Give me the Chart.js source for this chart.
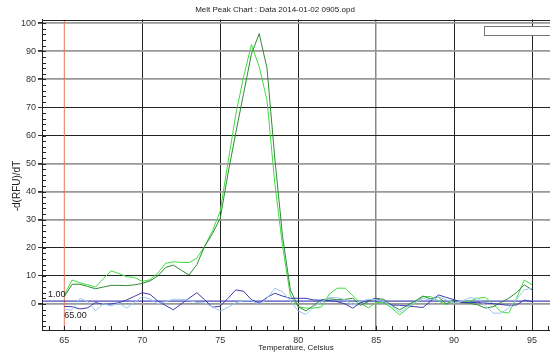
<!DOCTYPE html>
<html>
<head>
<meta charset="utf-8">
<script src="https://cdn.jsdelivr.net/npm/chart.js@4"></script>
<style>
  html, body { margin: 0; padding: 0; background: #fff; }
  #wrap { width: 550px; height: 353px; position: relative; }
</style>
</head>
<body>
<div id="wrap"><canvas id="meltChart"></canvas></div>
<script>
// melt peak chart - values
const temps = [65, 65.5, 66, 66.5, 67, 67.5, 68, 68.5, 69, 69.5, 70, 70.5, 71, 71.5, 72, 72.5, 73, 73.5, 74, 74.5,
  75, 75.5, 76, 76.5, 77, 77.5, 78, 78.5, 79, 79.5, 80, 80.5, 81, 81.5, 82, 82.5, 83, 83.5, 84, 84.5,
  85, 85.5, 86, 86.5, 87, 87.5, 88, 88.5, 89, 89.5, 90, 90.5, 91, 91.5, 92, 92.5, 93, 93.5, 94, 94.5, 95];

const darkGreen = [2.6, 7.0, 7.0, 6.2, 5.4, 6.0, 6.6, 6.6, 6.5, 6.8, 7.3, 8.2, 10.0, 13.0, 13.8, 12.0, 10.3, 14.0, 20.5, 25.0,
  30.5, 46.5, 61.0, 75.0, 89.0, 96.3, 84.0, 52.0, 24.0, 5.0, -1.0, -2.5, -0.5, 1.5, 1.8, 1.5, 1.6, 2.0, -0.5, 0.8,
  2.0, 1.6, -0.5, -2.1, -0.5, 1.0, 2.8, 1.8, 2.4, 0.0, 1.4, 0.5, 0.2, -0.3, -1.5, -1.0, 0.5, 2.0, 4.0, 6.8, 5.0];

const lightGreen = [3.2, 8.5, 7.5, 6.8, 6.0, 9.0, 11.8, 10.8, 9.7, 9.4, 8.0, 8.6, 11.0, 14.5, 15.0, 14.8, 14.7, 16.3, 20.5, 26.0,
  33.0, 50.5, 67.5, 81.0, 92.4, 84.5, 72.6, 43.0, 20.5, 3.0, -1.0, -1.5, -1.5, -1.0, 3.5, 5.6, 5.6, 3.0, 0.2, -1.4,
  0.5, 0.4, -1.5, -3.9, -1.7, 0.4, 2.6, 2.6, 1.0, -0.2, 1.3, 0.5, 1.0, 2.0, 2.3, 0.0, -2.8, -3.3, 2.0, 8.5, 6.8];

const darkBlue = [-0.9, -1.0, -1.8, -1.4, 0.5, -0.2, 0.0, 0.4, 1.4, 2.7, 4.0, 3.4, 1.0, -0.6, -2.1, 0.0, 2.0, 4.0, 1.5, -1.2,
  -0.8, 2.0, 5.0, 4.5, 1.5, 0.3, 2.3, 3.8, 2.8, 2.0, 2.0, 2.0, 1.4, 1.3, 1.2, 0.8, 0.0, -1.5, 0.4, 1.2,
  2.0, 0.6, -0.4, -0.5, -0.7, -1.0, -1.3, 1.0, 3.2, 2.3, 1.5, 0.5, 0.5, 0.5, 0.3, 0.1, -0.2, -0.5, -0.4, 1.4, 0.8];

const lightBlue = [-2.1, -2.1, 2.0, 0.8, -2.4, 0.0, -0.7, 0.2, -1.5, 0.5, 2.6, 1.7, 0.0, 0.8, 1.7, 1.6, 1.3, 0.5, 0.3, -1.0,
  -2.5, -1.2, 0.4, 1.2, 1.2, -0.2, 2.0, 5.6, 4.3, 1.0, -2.5, -3.8, -1.0, 0.8, 2.3, 2.2, 1.5, -0.4, 1.0, 1.6,
  1.5, 0.8, -0.8, -3.0, -1.2, 0.5, 1.9, 1.5, 2.4, 1.5, 0.3, 1.0, 2.2, 2.0, -0.5, -3.3, -3.3, -1.5, 1.6, 5.0, 5.6];

const xTicks = [65, 70, 75, 80, 85, 90, 95];
const yTicks = [0, 10, 20, 30, 40, 50, 60, 70, 80, 90, 100];
const threshold = 1.0;
const startTemp = 65.0;
const xMin = 63.57, xMax = 96.15;
const yMin = -9.3, yMax = 101.3;
const yTitle = '-d(RFU)/dT';

const toPoints = vals => temps.map((t, i) => ({ x: t, y: vals[i] }));

const grayY = [0, 30, 40, 50, 80, 90, 100];
const FONT = '"Liberation Sans", Arial, sans-serif';

const extras = {
  id: 'extras',
  afterDraw(chart) {
    const c = chart.ctx, a = chart.chartArea;
    const xs = chart.scales.x, ys = chart.scales.y;
    c.save();
    c.strokeStyle = '#222';
    c.lineWidth = 1;
    c.beginPath();
    // top frame
    c.moveTo(a.left, Math.round(a.top) + 0.5);
    c.lineTo(a.right, Math.round(a.top) + 0.5);
    // y minor ticks every 2
    for (let v = -8; v <= 100; v += 2) {
      const py = Math.round(ys.getPixelForValue(v)) + 0.5;
      c.moveTo(a.left, py);
      c.lineTo(a.left + 4, py);
    }
    // x minor ticks every 1
    for (let t = 64; t <= 96; t += 1) {
      const px = Math.round(xs.getPixelForValue(t)) + 0.5;
      c.moveTo(px, a.bottom);
      c.lineTo(px, a.bottom - 4);
    }
    c.stroke();
    // legend box (empty)
    c.fillStyle = '#fff';
    c.strokeStyle = '#777';
    c.fillRect(484, 26, 70, 9);
    c.strokeRect(484.5, 26.5, 70, 9);
    // marker labels
    c.fillStyle = '#222';
    c.font = '9px ' + FONT;
    c.textBaseline = 'middle';
    c.textAlign = 'left';
    c.fillText(threshold.toFixed(2), 48, ys.getPixelForValue(threshold) - 7);
    c.fillText(startTemp.toFixed(2), xs.getPixelForValue(startTemp), 316);
    // y axis title
    c.translate(17, 186);
    c.rotate(-Math.PI / 2);
    c.textAlign = 'center';
    c.font = '10px ' + FONT;
    c.fillText(yTitle, 0, 0);
    c.restore();
  }
};

new Chart(document.getElementById('meltChart'), {
  type: 'scatter',
  data: {
    datasets: [
      { label: 'light blue', data: toPoints(lightBlue), borderColor: '#9cc8ee' },
      { label: 'dark blue', data: toPoints(darkBlue), borderColor: '#3c3cb4' },
      { label: 'dark green', data: toPoints(darkGreen), borderColor: '#2f8a3a' },
      { label: 'light green', data: toPoints(lightGreen), borderColor: '#3ddc3d' },
      { label: 'threshold', data: [{ x: xMin, y: threshold }, { x: xMax, y: threshold }], borderColor: '#1c1ca8' },
      { label: 'start', data: [{ x: startTemp, y: yMin }, { x: startTemp, y: yMax }], borderColor: '#e6765e' }
    ].map(d => Object.assign(d, { showLine: true, pointRadius: 0, borderWidth: 1, tension: 0, fill: false }))
  },
  options: {
    responsive: true,
    maintainAspectRatio: false,
    animation: false,
    layout: { padding: { left: 0, right: 0, top: 0, bottom: 0 } },
    plugins: {
      legend: { display: false },
      tooltip: { enabled: false },
      title: {
        display: true,
        text: 'Melt Peak Chart : Data 2014-01-02 0905.opd',
        color: '#222',
        font: { family: FONT, size: 8, weight: 'normal' },
        padding: { top: 5, bottom: 5 }
      }
    },
    scales: {
      x: {
        type: 'linear',
        min: xMin,
        max: xMax,
        afterBuildTicks: s => { s.ticks = xTicks.map(v => ({ value: v })); },
        afterFit: s => { s.height = 23; },
        border: { color: '#222', width: 1 },
        grid: {
          drawTicks: false,
          color: c => c.tick && c.tick.value === 65 ? 'rgba(0,0,0,0)' : (c.tick && c.tick.value === 85 ? '#888' : '#222'),
          lineWidth: c => c.tick && c.tick.value === 85 ? 1.5 : 1
        },
        ticks: {
          color: '#333',
          padding: 5,
          font: { family: FONT, size: 9 },
          callback: v => v
        },
        title: {
          display: true,
          text: 'Temperature, Celsius',
          color: '#222',
          padding: { top: -1, bottom: 0 },
          font: { family: FONT, size: 8 }
        }
      },
      y: {
        min: yMin,
        max: yMax,
        afterBuildTicks: s => { s.ticks = yTicks.map(v => ({ value: v })); },
        afterFit: s => { s.width = 42; },
        border: { color: '#222', width: 1 },
        grid: {
          tickLength: 4,
          tickColor: '#333',
          color: c => c.tick && grayY.includes(c.tick.value) ? '#999' : '#222',
          lineWidth: c => c.tick && grayY.includes(c.tick.value) ? 1.8 : 1
        },
        ticks: {
          color: '#333',
          padding: 2,
          font: { family: FONT, size: 9 },
          callback: v => v
        }
      }
    }
  },
  plugins: [extras]
});
</script>
</body>
</html>
